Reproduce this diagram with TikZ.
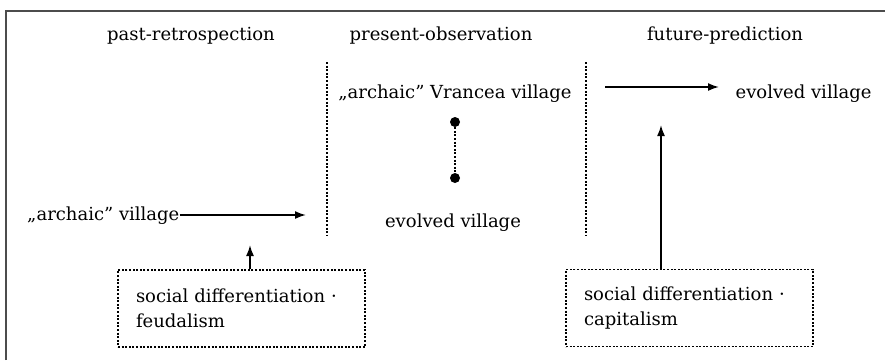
\documentclass[tikz,border=0pt]{standalone}
\usepackage{fontspec}
\setmainfont{DejaVu Serif}
\usetikzlibrary{arrows.meta}
\begin{document}
\begin{tikzpicture}[x=1pt,y=-1pt,
  lbl/.style={font=\fontsize{18}{25}\selectfont, inner sep=0pt, anchor=base},
  frame/.style={line width=2pt, draw=black!70},
  fine/.style={line width=1.1pt, dash pattern=on 2pt off 1.6pt},
  arr/.style={line width=1.7pt, -{Latex[length=11pt,width=8pt]}},
  dotbox/.style={draw, fine, minimum width=247pt, minimum height=77pt,
     text width=211pt, inner xsep=18pt, align=left, font=\fontsize{18}{25}\selectfont},
  blob/.style={circle, fill, inner sep=0pt, minimum size=10pt}]
\useasboundingbox (0,0) rectangle (885,360);
% frame (only top and left edges visible)
\draw[frame] (6,360) -- (6,11) -- (885,11);
% headers
\node[lbl] (hpast) at (191,40) {past-retrospection};
\node[lbl] (hpres) at (441,40) {present-observation};
\node[lbl] (hfut) at (725,40) {future-prediction};
% dividers
\coordinate (v1t) at (327,62); \coordinate (v1b) at (327,236);
\coordinate (v2t) at (586,62); \coordinate (v2b) at (586,236);
\draw[fine] (v1t) -- (v1b);
\draw[fine] (v2t) -- (v2b);
% present column
\node[lbl] (arcV) at (455,98) {„archaic”\ Vrancea village};
\node[blob] (d1) at (455,122) {};
\node[blob] (d2) at (455,178) {};
\draw[fine] (d1) -- (d2);
\node[lbl] (evM) at (453,227) {evolved village};
% past column
\node[lbl, anchor=base west] (arcL) at (27,220) {„archaic” village};
\coordinate (tipL) at (306,215);
\draw[arr] (arcL.east |- tipL) -- (tipL);
\node[dotbox] (bf) at (241.5,308.5) {social differentiation ·\\feudalism};
\coordinate (tipF) at (250,245);
\draw[arr] (tipF |- bf.north) -- (tipF);
% future column
\node[lbl] (evR) at (803.5,98) {evolved village};
\coordinate (rs) at (605,87);
\coordinate (re) at (719,87);
\draw[arr] (rs) -- (re);
\node[dotbox] (bc) at (689.5,308) {social differentiation ·\\capitalism};
\coordinate (tipC) at (661,125);
\draw[arr] (tipC |- bc.north) -- (tipC);
\end{tikzpicture}
\end{document}
